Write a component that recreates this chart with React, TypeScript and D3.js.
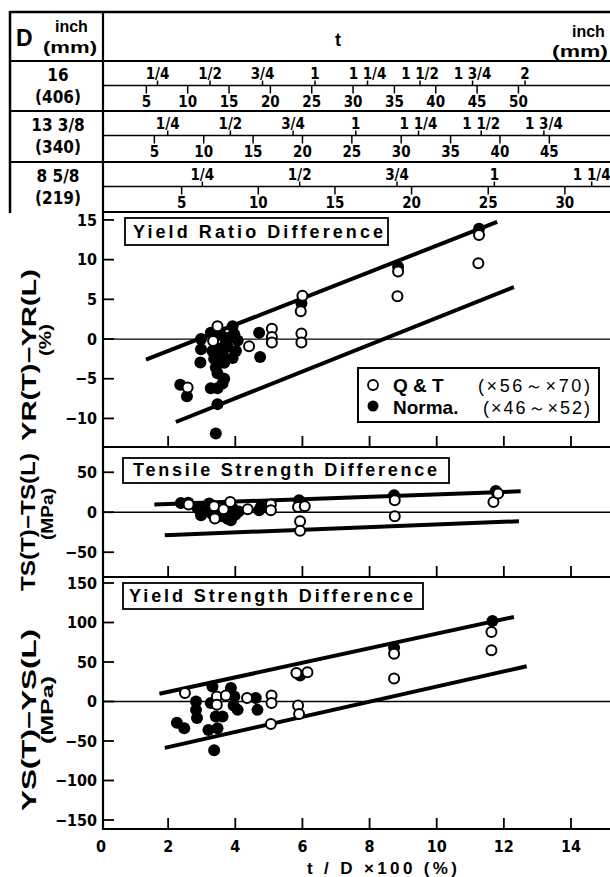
import React from "react";
import * as d3 from "d3";

// x axis: t/D x100 (%)
const xTicks = [0, 2, 4, 6, 8, 10, 12, 14];

// pipe size table
const pipeInch = ["16", "13 3/8", "8 5/8"];
const pipeMm = [406, 340, 219];
const inchLabels = ["1/4", "1/2", "3/4", "1", "1 1/4", "1 1/2", "1 3/4", "2"];
const inchValues = [0.25, 0.5, 0.75, 1, 1.25, 1.5, 1.75, 2];
const inchCount = [8, 7, 5];
const mmTicks = [5, 10, 15, 20, 25, 30, 35, 40, 45, 50];
const mmCount = [10, 9, 6];

// Yield Ratio Difference (%)
const yrTicks = [15, 10, 5, 0, -5, -10];
const yrQT = [
  [2.58, -6.1], [3.34, -0.25], [3.47, 1.6], [4.41, -0.9], [5.09, 1.3], [5.09, 0.25],
  [5.09, -0.45], [5.95, 3.5], [6.0, 5.45], [5.97, 0.7], [5.97, -0.45], [8.83, 5.4],
  [8.85, 8.5], [11.24, 9.55], [11.26, 13.1],
];
const yrNorm = [
  [2.36, -5.75], [2.56, -7.2], [2.96, -2.95], [2.98, 0.0], [2.98, -1.3], [3.27, 0.8],
  [3.32, -1.5], [3.37, -2.5], [3.42, -3.6], [3.47, -4.3], [3.27, -6.2], [3.47, -6.2],
  [3.62, -5.6], [3.67, -5.0], [3.47, -8.2], [3.42, -11.9], [3.92, 1.6], [3.97, 0.6],
  [4.07, -0.2], [4.02, -1.5], [3.92, -2.4], [3.77, -1.0], [3.82, 0.2], [3.67, -3.0],
  [3.57, 0.5], [3.62, -2.0], [3.52, -1.2], [3.72, -0.5], [4.71, 0.8], [4.74, -2.25],
  [5.97, 4.5], [8.85, 9.1], [11.26, 13.9],
];
const yrUpper = [[1.34, -2.6], [11.8, 14.75]];
const yrLower = [[2.23, -10.45], [12.3, 6.55]];

// Tensile Strength Difference (MPa)
const tsTicks = [50, 0, -50];
const tsQT = [
  [2.61, 9.6], [3.37, 7.5], [3.39, -7.9], [3.65, 3.75], [3.85, 12.9], [4.37, 3.75],
  [5.06, 9.6], [5.06, 2.5], [5.87, 6.6], [6.07, 7.5], [5.93, -11.25], [5.93, -23.3],
  [8.75, 15], [8.75, -5], [11.69, 12.9], [11.83, 23.3],
];
const tsNorm = [
  [2.38, 11.7], [2.6, 12], [2.88, 4.6], [2.98, -3.75], [3.12, 3], [3.22, 10.8],
  [3.3, -2], [3.5, 0], [3.6, -5], [3.77, -8], [3.87, -10], [3.92, 5], [4.0, -3],
  [4.1, 1], [4.71, 2.5], [4.76, 6.6], [5.9, 15], [8.73, 21.25], [11.76, 26.7],
];
const tsUpper = [[1.59, 9.6], [12.5, 26.25]];
const tsLower = [[1.9, -28.75], [12.45, -11.25]];

// Yield Strength Difference (MPa)
const ysTicks = [150, 100, 50, 0, -50, -100, -150];
const ysQT = [
  [2.5, 10.7], [3.45, 6.4], [3.45, -4.2], [3.72, 7.7], [4.35, 4.3], [5.08, 7.7],
  [5.08, -2], [5.06, -28.4], [5.82, 36.2], [6.15, 37], [5.87, -5.1], [5.9, -15.7],
  [8.73, 60.5], [8.73, 29], [11.63, 88], [11.63, 65],
];
const ysNorm = [
  [2.26, -26.8], [2.48, -34], [2.83, 0], [2.83, -10.6], [2.86, -21], [3.32, 19],
  [3.27, -2], [3.42, -19], [3.2, -36], [3.47, -34], [3.37, -61.6], [3.62, -19],
  [3.87, 17], [3.97, 6.4], [3.95, -5], [4.07, -10.6], [4.61, 4.3], [4.66, -10.6],
  [5.93, 32.8], [8.73, 68], [11.66, 102],
];
const ysUpper = [[1.74, 9.8], [12.3, 107]];
const ysLower = [[1.9, -58.7], [12.68, 44.6]];

const cond = "'DejaVu Sans Condensed', 'DejaVu Sans', sans-serif";
const sans = "'Liberation Sans', Arial, sans-serif";

const left = 103;
const right = 614;

let x = d3.scaleLinear().domain([0, 14]).range([101, 571]);
let tx = d3.scaleLinear().domain([0, 14]).range([105, 575]);

const rowTop = [61, 111, 162];

const panels = [
  {
    title: "Yield Ratio Difference",
    y: d3.scaleLinear().domain([-13.6, 16]).range([447, 212]),
    ticks: yrTicks, qt: yrQT, norm: yrNorm, upper: yrUpper, lower: yrLower,
    box: [125, 218, 263, 27], text: [133, 238, 250],
    label: "YR(T)−YR(L)", labelPos: [29, 355, 172],
    unit: "(%)", unitPos: [45, 340, 32],
  },
  {
    title: "Tensile Strength Difference",
    y: d3.scaleLinear().domain([-81, 81.6]).range([577, 447]),
    ticks: tsTicks, qt: tsQT, norm: tsNorm, upper: tsUpper, lower: tsLower,
    box: [123, 458, 326, 25], text: [133, 476, 304],
    label: "TS(T)−TS(L)", labelPos: [28, 522, 138],
    unit: "(MPa)", unitPos: [47, 514, 52],
  },
  {
    title: "Yield Strength Difference",
    y: d3.scaleLinear().domain([-161.4, 157.6]).range([829, 577]),
    ticks: ysTicks, qt: ysQT, norm: ysNorm, upper: ysUpper, lower: ysLower,
    box: [123, 583, 300, 26], text: [129, 602, 284],
    label: "YS(T)−YS(L)", labelPos: [29, 720, 182],
    unit: "(MPa)", unitPos: [47, 710, 68],
  },
];

const fmt = (v: number) => (v < 0 ? "−" + Math.abs(v) : String(v));

const Table = () => {
  return (
    <g>
      <line x1={10} x2={right} y1={12} y2={12} stroke="#000" strokeWidth={2.5} />
      <line x1={10} x2={10} y1={11} y2={213} stroke="#000" strokeWidth={2.5} />
      <line x1={10} x2={right} y1={61} y2={61} stroke="#000" strokeWidth={1.8} />
      <line x1={10} x2={right} y1={111} y2={111} stroke="#000" strokeWidth={1.8} />
      <line x1={10} x2={right} y1={162} y2={162} stroke="#000" strokeWidth={1.8} />
      <text x={16} y={46} fontFamily={sans} fontWeight="bold" fontSize={23}>D</text>
      <text x={55} y={32} fontFamily={sans} fontWeight="bold" fontSize={16}>inch</text>
      <text x={43} y={53} fontFamily={sans} fontWeight="bold" fontSize={16} textLength={54} lengthAdjust="spacingAndGlyphs">(mm)</text>
      <text x={338} y={46} fontFamily={sans} fontWeight="bold" fontSize={18} textAnchor="middle">t</text>
      <text x={572} y={37} fontFamily={sans} fontWeight="bold" fontSize={16}>inch</text>
      <text x={552} y={57} fontFamily={sans} fontWeight="bold" fontSize={16} textLength={56} lengthAdjust="spacingAndGlyphs">(mm)</text>
      {pipeMm.map((D, i) => {
        let top = rowTop[i];
        let axisY = top + 24.5;
        return (
          <g key={D}>
            <text x={58} y={top + 20} textAnchor="middle" fontFamily={cond} fontWeight="bold" fontSize={17}>
              {pipeInch[i]}
            </text>
            <text x={58} y={top + 42} textAnchor="middle" fontFamily={cond} fontWeight="bold" fontSize={17}>
              ({D})
            </text>
            <line x1={left} x2={right} y1={axisY} y2={axisY} stroke="#000" strokeWidth={1.5} />
            {inchValues.slice(0, inchCount[i]).map((v, j) => {
              let px = tx(((v * 25.4) / D) * 100);
              return (
                <g key={"in" + j}>
                  <line x1={px} x2={px} y1={axisY - 5} y2={axisY} stroke="#000" strokeWidth={1.5} />
                  <text x={px} y={axisY - 7} textAnchor="middle" fontFamily={cond} fontWeight="bold" fontSize={15}>
                    {inchLabels[j]}
                  </text>
                </g>
              );
            })}
            {mmTicks.slice(0, mmCount[i]).map((v) => {
              let px = tx((v / D) * 100);
              return (
                <g key={"mm" + v}>
                  <line x1={px} x2={px} y1={axisY} y2={axisY + 8} stroke="#000" strokeWidth={1.5} />
                  <text x={px} y={axisY + 21} textAnchor="middle" fontFamily={cond} fontWeight="bold" fontSize={15}>
                    {v}
                  </text>
                </g>
              );
            })}
          </g>
        );
      })}
    </g>
  );
};

const Panel = ({ p }: { p: any }) => {
  let y = p.y;
  let [bottom, top] = y.range();
  let band = d3
    .line<number[]>()
    .x((d) => x(d[0]))
    .y((d) => y(d[1]));
  return (
    <g>
      <line x1={left} x2={right} y1={top} y2={top} stroke="#000" strokeWidth={2.2} />
      <line x1={left} x2={right} y1={bottom} y2={bottom} stroke="#000" strokeWidth={2.2} />
      <line x1={left} x2={right} y1={y(0)} y2={y(0)} stroke="#000" strokeWidth={1.3} />
      {p.ticks.map((v: number) => (
        <g key={v}>
          <line x1={left} x2={left + 11} y1={y(v)} y2={y(v)} stroke="#000" strokeWidth={1.8} />
          <text x={97} y={y(v)} dy="0.36em" textAnchor="end" fontFamily={cond} fontWeight="bold" fontSize={16}>
            {fmt(v)}
          </text>
        </g>
      ))}
      {xTicks.slice(1).map((v) => (
        <line key={v} x1={x(v)} x2={x(v)} y1={bottom - 11} y2={bottom} stroke="#000" strokeWidth={1.8} />
      ))}
      <path d={band(p.upper) || ""} stroke="#000" strokeWidth={4} fill="none" />
      <path d={band(p.lower) || ""} stroke="#000" strokeWidth={4} fill="none" />
      {p.norm.map((d: number[], i: number) => (
        <circle key={"n" + i} cx={x(d[0])} cy={y(d[1])} r={6} fill="#000" />
      ))}
      {p.qt.map((d: number[], i: number) => (
        <circle key={"q" + i} cx={x(d[0])} cy={y(d[1])} r={5} fill="#fff" stroke="#000" strokeWidth={2} />
      ))}
      <rect x={p.box[0]} y={p.box[1]} width={p.box[2]} height={p.box[3]} fill="#fff" stroke="#000" strokeWidth={1.8} />
      <text x={p.text[0]} y={p.text[1]} textLength={p.text[2]} fontFamily={sans} fontWeight="bold" fontSize={18}>
        {p.title}
      </text>
      <text
        transform={`translate(${p.labelPos[0]},${p.labelPos[1]}) rotate(-90)`}
        textAnchor="middle"
        dy="0.36em"
        textLength={p.labelPos[2]}
        lengthAdjust="spacingAndGlyphs"
        fontFamily={sans}
        fontWeight="bold"
        fontSize={20}
      >
        {p.label}
      </text>
      <text
        transform={`translate(${p.unitPos[0]},${p.unitPos[1]}) rotate(-90)`}
        textAnchor="middle"
        dy="0.36em"
        textLength={p.unitPos[2]}
        lengthAdjust="spacingAndGlyphs"
        fontFamily={sans}
        fontWeight="bold"
        fontSize={17}
      >
        {p.unit}
      </text>
    </g>
  );
};

const Legend = () => {
  return (
    <g>
      <rect x={358} y={368} width={241} height={54} fill="#fff" stroke="#000" strokeWidth={2} />
      <circle cx={373} cy={385} r={5} fill="#fff" stroke="#000" strokeWidth={1.8} />
      <text x={393} y={392} fontFamily={sans} fontWeight="bold" fontSize={19}>Q &amp; T</text>
      <text x={478} y={392} textLength={112} fontFamily={sans} fontSize={18}>(×56～×70)</text>
      <circle cx={373} cy={406} r={5.5} fill="#000" />
      <text x={393} y={414} fontFamily={sans} fontWeight="bold" fontSize={19}>Norma.</text>
      <text x={483} y={414} textLength={107} fontFamily={sans} fontSize={18}>(×46～×52)</text>
    </g>
  );
};

const App = () => {
  return (
    <svg
      width={610}
      height={877}
      style={{ position: "absolute", left: 0, top: 0, background: "#fff" }}
    >
      <rect width={610} height={877} fill="#fff" />
      <Table />
      <line x1={left} x2={left} y1={11} y2={830} stroke="#000" strokeWidth={2.2} />
      {panels.map((p) => (
        <Panel key={p.title} p={p} />
      ))}
      <Legend />
      {xTicks.map((v) => (
        <text key={v} x={x(v)} y={852} textAnchor="middle" fontFamily={cond} fontWeight="bold" fontSize={16}>
          {v}
        </text>
      ))}
      <text x={382} y={874} textAnchor="middle" textLength={150} fontFamily={sans} fontWeight="bold" fontSize={17}>
        t / D ×100 (%)
      </text>
    </svg>
  );
};

export default App;
